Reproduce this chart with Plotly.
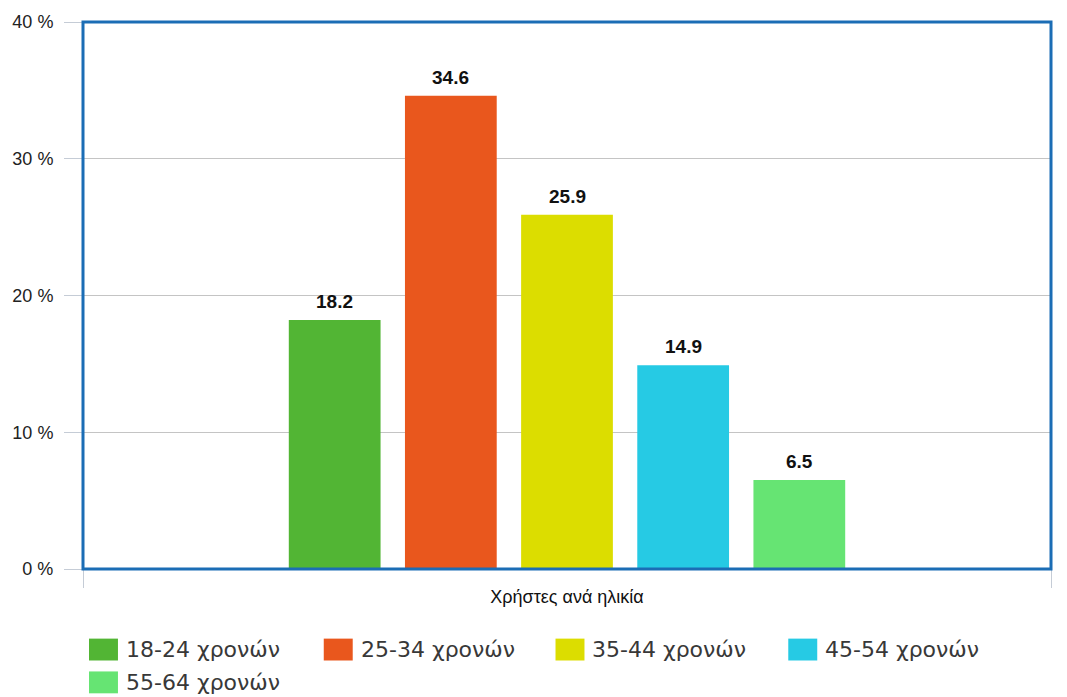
import plotly.graph_objects as go

# Share of users by age group (%)
category = ["Χρήστες ανά ηλικία"]
age_groups = ["18-24 χρονών", "25-34 χρονών", "35-44 χρονών", "45-54 χρονών", "55-64 χρονών"]
shares = [18.2, 34.6, 25.9, 14.9, 6.5]
colors = ["#52b534", "#e9571d", "#dcdd00", "#26cae4", "#66e473"]
y_ticks = [0, 10, 20, 30, 40]
y_tick_labels = ["0 %", "10 %", "20 %", "30 %", "40 %"]

BARGAP = 0.4
GROUPGAP = 0.21

fig = go.Figure()
for name, val, col in zip(age_groups, shares, colors):
    fig.add_trace(go.Bar(
        x=category, y=[val], name=name,
        marker=dict(color=col, line=dict(width=0)),
        showlegend=False, hoverinfo="name+y",
    ))

# Value labels above each bar (group slot centres on the category axis)
n = len(shares)
slot = (1 - BARGAP) / n
for i, val in enumerate(shares):
    xc = -(1 - BARGAP) / 2 + slot * (i + 0.5)
    fig.add_annotation(x=xc, y=val, xref="x", yref="y", text=f"<b>{val:.1f}</b>",
                       showarrow=False, xanchor="center", yanchor="bottom", yshift=6,
                       font=dict(family="Liberation Sans, Arial, sans-serif", size=19, color="#111111"))

fig.update_layout(
    width=1067, height=697,
    margin=dict(l=82, r=16, t=19, b=128),
    paper_bgcolor="white", plot_bgcolor="white",
    barmode="group", bargap=BARGAP, bargroupgap=GROUPGAP,
    font=dict(family="Liberation Sans, Arial, sans-serif", color="#222222"),
    xaxis=dict(
        showgrid=False, zeroline=False, showline=False,
        ticks="outside", tickson="boundaries", ticklen=18, tickcolor="#c5ccd6", tickwidth=1,
        ticklabelstandoff=15,
        tickfont=dict(size=18, color="#111111"),
    ),
    yaxis=dict(
        range=[0, 40], tickvals=y_ticks, ticktext=y_tick_labels,
        showgrid=True, gridcolor="#c4c4c4", gridwidth=1, zeroline=False, showline=False,
        ticks="outside", ticklen=18, tickcolor="#c5ccd6", tickwidth=1,
        ticklabelstandoff=7,
        tickfont=dict(size=18, color="#222222"),
    ),
)

# Plot frame
fig.add_shape(type="rect", xref="paper", yref="paper", x0=0, y0=0, x1=1, y1=1,
              line=dict(color="#1b6db5", width=3), fillcolor="rgba(0,0,0,0)", layer="above")

# Legend drawn as large colour swatches with labels, four per row
plot_w = 1067 - 82 - 16
plot_h = 697 - 19 - 128
col_x = [88, 323, 555, 788]
row_y = [650, 683]
for i, (name, col) in enumerate(zip(age_groups, colors)):
    px = col_x[i % 4]
    py = row_y[i // 4]
    x0 = (px - 82) / plot_w
    x1 = (px + 29 - 82) / plot_w
    y0 = (697 - 128 - (py + 11)) / plot_h
    y1 = (697 - 128 - (py - 11)) / plot_h
    fig.add_shape(type="rect", xref="paper", yref="paper", x0=x0, x1=x1, y0=y0, y1=y1,
                  line=dict(width=0), fillcolor=col)
    fig.add_annotation(xref="paper", yref="paper", x=(px + 35 - 82) / plot_w,
                       y=(697 - 128 - py) / plot_h, text=name, showarrow=False,
                       xanchor="left", yanchor="middle",
                       font=dict(family="DejaVu Sans, sans-serif", size=22, color="#383838"))

fig.write_html("out.html")
